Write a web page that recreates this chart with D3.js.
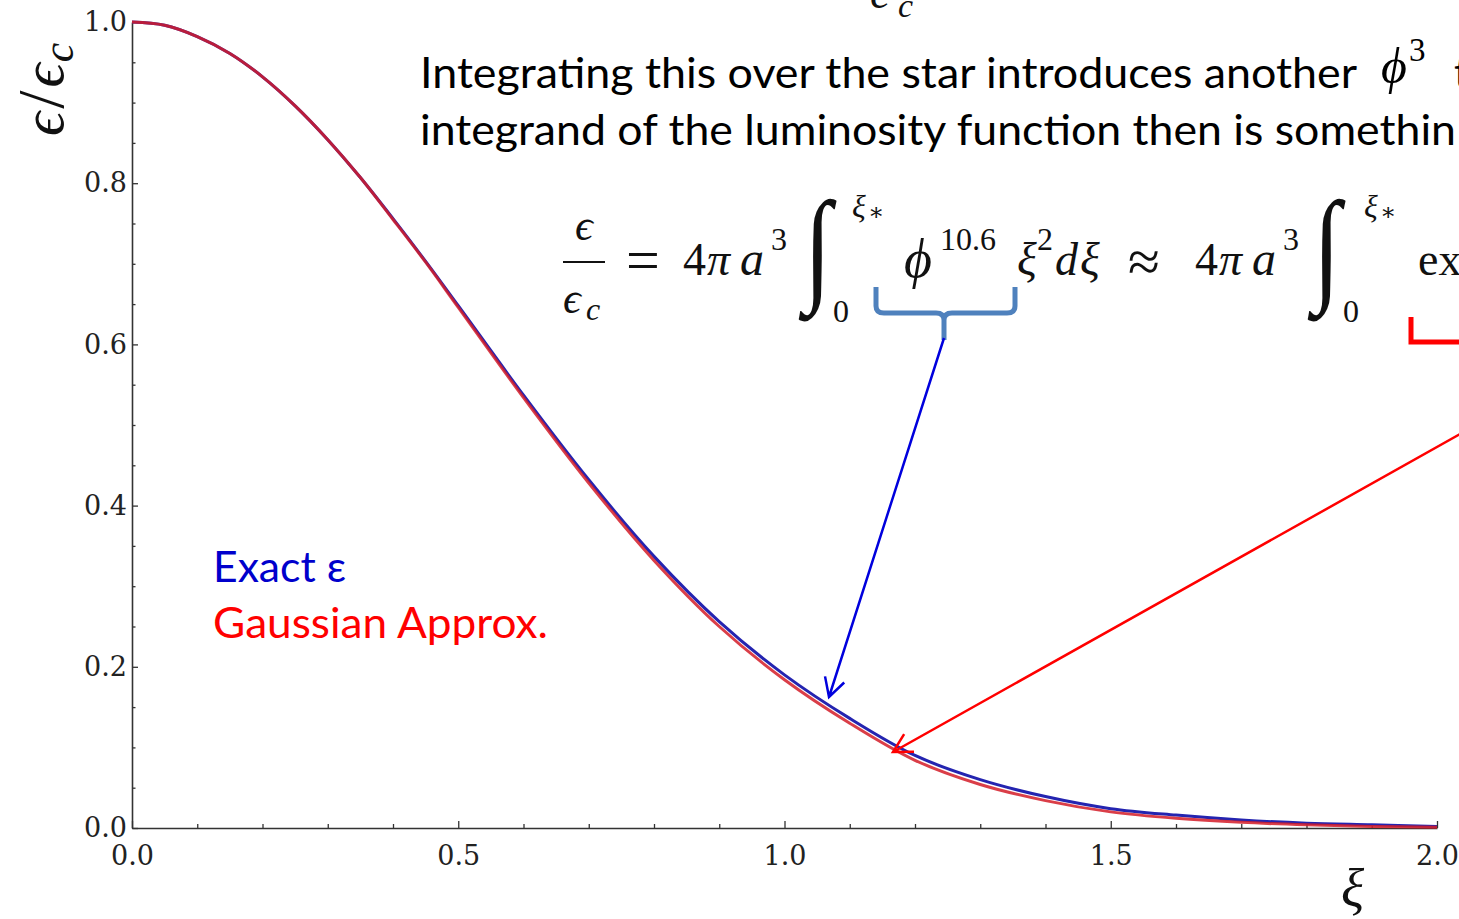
<!DOCTYPE html>
<html>
<head>
<meta charset="utf-8">
<script src="https://cdn.jsdelivr.net/npm/d3@7"></script>
<style>
  html, body { margin: 0; padding: 0; background: #fff; overflow: hidden; }
  svg { display: block; }
</style>
</head>
<body>
<svg id="chart" width="1459" height="919"></svg>
<script>
// Normalised energy generation rate across the star
const xi        = [0.0, 0.05, 0.1, 0.15, 0.2, 0.25, 0.3, 0.35, 0.4, 0.45, 0.5, 0.6, 0.7, 0.8, 0.9, 1.0,
                   1.1, 1.2, 1.3, 1.4, 1.5, 1.6, 1.7, 1.8, 1.9, 2.0];
const exactEps  = [1.000, 0.996, 0.982, 0.961, 0.932, 0.896, 0.854, 0.807, 0.756, 0.703, 0.648,
                   0.537, 0.432, 0.337, 0.256, 0.190,
                   0.136, 0.090, 0.060, 0.039, 0.024, 0.016, 0.010, 0.006, 0.004, 0.002];
const gaussEps  = [1.000, 0.996, 0.982, 0.961, 0.932, 0.896, 0.854, 0.807, 0.755, 0.702, 0.646,
                   0.534, 0.428, 0.332, 0.250, 0.184,
                   0.130, 0.084, 0.054, 0.034, 0.020, 0.012, 0.007, 0.004, 0.002, 0.001];

const xMajor = [0.0, 0.5, 1.0, 1.5, 2.0];
const xMinor = [0.1, 0.2, 0.3, 0.4, 0.6, 0.7, 0.8, 0.9, 1.1, 1.2, 1.3, 1.4, 1.6, 1.7, 1.8, 1.9];
const yMajor = [0.0, 0.2, 0.4, 0.6, 0.8, 1.0];
const yMinor = [0.05, 0.1, 0.15, 0.25, 0.3, 0.35, 0.45, 0.5, 0.55, 0.65, 0.7, 0.75, 0.85, 0.9, 0.95];

const svg = d3.select("#chart");

const x = d3.scaleLinear().domain([0, 2]).range([132, 1437]);
const y = d3.scaleLinear().domain([0, 1]).range([828, 22]);

const tickFont = "'DejaVu Serif', serif";
const axisColor = "#333";

// ---- axes ----
const xAxis = svg.append("g").attr("transform", `translate(0,${y(0)})`)
  .call(d3.axisBottom(x).tickValues(xMajor).tickFormat(d3.format(".1f"))
        .tickSizeInner(-7).tickSizeOuter(0).tickPadding(18));
const xAxisMinor = svg.append("g").attr("transform", `translate(0,${y(0)})`)
  .call(d3.axisBottom(x).tickValues(xMinor).tickFormat("")
        .tickSizeInner(-4).tickSizeOuter(0));
const yAxis = svg.append("g").attr("transform", `translate(${x(0)},0)`)
  .call(d3.axisLeft(y).tickValues(yMajor).tickFormat(d3.format(".1f"))
        .tickSizeInner(-6).tickSizeOuter(0).tickPadding(5));
const yAxisMinor = svg.append("g").attr("transform", `translate(${x(0)},0)`)
  .call(d3.axisLeft(y).tickValues(yMinor).tickFormat("")
        .tickSizeInner(-3.5).tickSizeOuter(0));

[xAxis, xAxisMinor, yAxis, yAxisMinor].forEach(g => {
  g.select(".domain").attr("stroke", axisColor).attr("stroke-width", 1.6);
  g.selectAll(".tick line").attr("stroke", axisColor).attr("stroke-width", 1.3);
  g.selectAll(".tick text").attr("font-family", tickFont).attr("font-size", 27).attr("fill", "#222");
});
xAxisMinor.select(".domain").remove();
yAxisMinor.select(".domain").remove();

// ---- curves ----
const line = d3.line().curve(d3.curveCatmullRom.alpha(0.5));
const exactPts = xi.map((d, i) => [x(d), y(exactEps[i])]);
const gaussPts = xi.map((d, i) => [x(d), y(gaussEps[i])]);

svg.append("path").attr("d", line(exactPts)).attr("fill", "none")
  .attr("stroke", "#2424b0").attr("stroke-width", 3);
svg.append("path").attr("d", line(gaussPts)).attr("fill", "none")
  .attr("stroke", "#d41c28").attr("stroke-width", 3).attr("stroke-opacity", 0.85);

// ---- axis titles ----
const mathFont = "'Liberation Serif', 'DejaVu Serif', serif";
svg.append("text").attr("x", 1341).attr("y", 907)
  .attr("font-family", mathFont).attr("font-style", "italic").attr("font-size", 54)
  .attr("fill", "#111").text("ξ");

const yTitle = svg.append("text")
  .attr("transform", "translate(63,136) rotate(-90)")
  .attr("font-family", mathFont).attr("font-style", "italic").attr("font-size", 60)
  .attr("fill", "#111");
yTitle.append("tspan").text("ϵ");
yTitle.append("tspan").attr("font-style", "normal").attr("font-size", 66).attr("dx", 3).text("/");
yTitle.append("tspan").attr("dx", 3).text("ϵ");
yTitle.append("tspan").attr("font-size", 44).attr("dy", 10).attr("dx", 1).text("c");

// ---- legend ----
const bodyFont = "Lato, 'Open Sans', sans-serif";
svg.append("text").attr("x", 213).attr("y", 582)
  .attr("font-family", bodyFont).attr("font-size", 42).attr("fill", "#0000cc")
  .attr("textLength", 133).attr("lengthAdjust", "spacingAndGlyphs").text("Exact ε");
svg.append("text").attr("x", 213).attr("y", 638)
  .attr("font-family", bodyFont).attr("font-size", 42).attr("fill", "#ff0000")
  .attr("textLength", 335).attr("lengthAdjust", "spacingAndGlyphs").text("Gaussian Approx.");

// ---- explanatory text ----
svg.append("text").attr("x", 420).attr("y", 88)
  .attr("font-family", bodyFont).attr("font-size", 42).attr("fill", "#000")
  .attr("textLength", 937).attr("lengthAdjust", "spacingAndGlyphs")
  .text("Integrating this over the star introduces another");
svg.append("text").attr("x", 1381).attr("y", 83)
  .attr("font-family", mathFont).attr("font-style", "italic").attr("font-size", 50)
  .attr("fill", "#000").text("ϕ");
svg.append("text").attr("x", 1409).attr("y", 61)
  .attr("font-family", mathFont).attr("font-size", 33).attr("fill", "#000").text("3");
svg.append("text").attr("x", 1454).attr("y", 88)
  .attr("font-family", bodyFont).attr("font-size", 42).attr("fill", "#000").text("term");
svg.append("text").attr("x", 420).attr("y", 145)
  .attr("font-family", bodyFont).attr("font-size", 42).attr("fill", "#000")
  .attr("textLength", 1036).attr("lengthAdjust", "spacingAndGlyphs")
  .text("integrand of the luminosity function then is somethin");

// fragment of the preceding expression at the top edge
svg.append("text").attr("x", 870).attr("y", 8)
  .attr("font-family", mathFont).attr("font-style", "italic").attr("font-size", 46)
  .attr("fill", "#111").text("ϵ");
svg.append("text").attr("x", 898).attr("y", 17)
  .attr("font-family", mathFont).attr("font-style", "italic").attr("font-size", 34)
  .attr("fill", "#111").text("c");

// ---- equation ----
const eq = svg.append("g").attr("font-family", mathFont).attr("fill", "#111");
function put(txt, px, py, size, italic) {
  return eq.append("text").attr("x", px).attr("y", py).attr("font-size", size)
    .attr("font-style", italic ? "italic" : "normal").text(txt);
}
function integral(px) {
  eq.append("text").attr("transform", `translate(${px},288) scale(0.8,1)`)
    .attr("font-family", "'Liberation Serif', serif").attr("font-size", 125)
    .attr("font-style", "italic").text("∫");
}
// fraction epsilon / epsilon_c
put("ϵ", 575, 240, 44, true);
eq.append("line").attr("x1", 563).attr("x2", 605).attr("y1", 262).attr("y2", 262)
  .attr("stroke", "#111").attr("stroke-width", 2);
put("ϵ", 563, 313, 44, true);
put("c", 586, 320, 32, true);
put("=", 626, 280, 60, false);
// first integral
put("4", 683, 275, 46, false);
put("π", 707, 275, 46, true);
put("a", 740, 275, 48, true);
put("3", 771, 250, 32, false);
integral(804);
put("ξ", 852, 217, 32, true);
put("∗", 868, 220, 24, false);
put("0", 833, 322, 32, false);
put("ϕ", 904, 277, 54, true);
put("10.6", 940, 250, 32, false);
put("ξ", 1017, 275, 46, true);
put("2", 1037, 250, 32, false);
put("d", 1055, 275, 46, true);
put("ξ", 1080, 275, 46, true);
put("≈", 1128, 281, 58, false);
// second integral
put("4", 1195, 275, 46, false);
put("π", 1219, 275, 46, true);
put("a", 1252, 275, 48, true);
put("3", 1283, 250, 32, false);
integral(1313);
put("ξ", 1364, 217, 32, true);
put("∗", 1380, 220, 24, false);
put("0", 1343, 322, 32, false);
put("ex", 1418, 275, 46, false);

// ---- braces and pointers ----
svg.append("path")
  .attr("d", "M876,287 L876,306 Q876,313 884,313 L936,313 Q944,313 944,320 L944,340 M944,320 Q944,313 952,313 L1007,313 Q1015,313 1015,306 L1015,287")
  .attr("fill", "none").attr("stroke", "#4f81bd").attr("stroke-width", 5);
svg.append("path")
  .attr("d", "M1411,317 L1411,342 L1459,342")
  .attr("fill", "none").attr("stroke", "#ff0000").attr("stroke-width", 5);

function arrow(x1, y1, x2, y2, color) {
  const ang = Math.atan2(y2 - y1, x2 - x1);
  const len = 21, spread = 0.5;
  const a1 = [x2 - len * Math.cos(ang - spread), y2 - len * Math.sin(ang - spread)];
  const a2 = [x2 - len * Math.cos(ang + spread), y2 - len * Math.sin(ang + spread)];
  svg.append("path")
    .attr("d", `M${x1},${y1} L${x2},${y2} M${a1[0]},${a1[1]} L${x2},${y2} L${a2[0]},${a2[1]}`)
    .attr("fill", "none").attr("stroke", color).attr("stroke-width", 2.5)
    .attr("stroke-linejoin", "miter");
}
arrow(944, 338, 829, 697, "#0000dd");
arrow(1462, 433, 893, 752, "#ff0000");
</script>
</body>
</html>
